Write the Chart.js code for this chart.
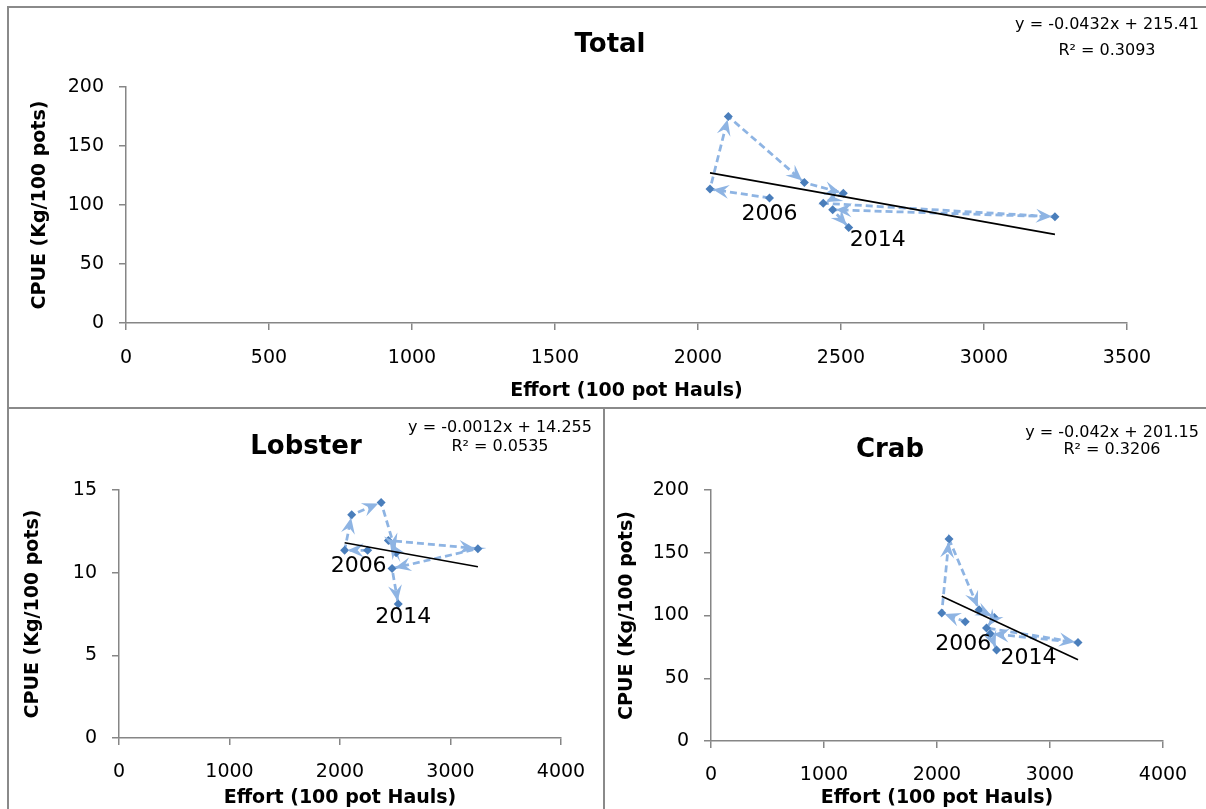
<!DOCTYPE html>
<html>
<head>
<meta charset="utf-8">
<title>CPUE vs Effort</title>
<script src="https://cdn.jsdelivr.net/npm/chart.js@4.4.1/dist/chart.umd.min.js"></script>
<style>
  html, body { margin: 0; padding: 0; background: #fff; overflow: hidden; }
  body { width: 1206px; height: 809px; position: relative; }
  canvas { position: absolute; }
  .box { position: absolute; box-sizing: border-box; border: 2px solid #8a8a8a; }
</style>
</head>
<body>
<div class="box" style="left:7px; top:6px; width:1300px; height:403px;"></div>
<div class="box" style="left:7px; top:407px; width:598px; height:500px;"></div>
<canvas id="totalChart" width="1206" height="407" style="left:0; top:0;"></canvas>
<canvas id="lobsterChart" width="605" height="402" style="left:0; top:407px;"></canvas>
<canvas id="crabChart" width="601" height="402" style="left:605px; top:407px;"></canvas>
<script>
// data (years 2006-2014, in time order)
var years = ['2006', '2007', '2008', '2009', '2010', '2011', '2012', '2013', '2014'];
var effort = [2250, 2042, 2106, 2372, 2508, 2438, 3248, 2471, 2527];
var totalCpue = [106, 113.5, 175, 119, 110, 101.5, 90, 96, 81];
var lobsterCpue = [11.35, 11.35, 13.5, 14.25, 11.2, 11.95, 11.45, 10.25, 8.1];
var crabCpue = [95, 102, 161, 104.5, 98.5, 90, 78.5, 85.5, 72.5];

// linear trend lines: [slope, intercept]
var totalTrend = [-0.0432, 215.41];
var lobsterTrend = [-0.0012, 14.255];
var crabTrend = [-0.042, 201.15];
var totalEq = ['y = -0.0432x + 215.41', 'R\u00b2 = 0.3093'];
var lobsterEq = ['y = -0.0012x + 14.255', 'R\u00b2 = 0.0535'];
var crabEq = ['y = -0.042x + 201.15', 'R\u00b2 = 0.3206'];

// axis ranges: [min, max, step]
var totalXAxis = [0, 3500, 500];
var totalYAxis = [0, 200, 50];
var lobsterXAxis = [0, 4000, 1000];
var lobsterYAxis = [0, 15, 5];
var crabXAxis = [0, 4000, 1000];
var crabYAxis = [0, 200, 50];

var lineBlue = '#8EB4E3';
var markerBlue = '#4A7EBB';
var axisGrey = '#868686';
var family = '"DejaVu Sans", sans-serif';

// arrow heads at the end of every step of the path
function drawArrow(ctx, from, to) {
  var ang = Math.atan2(to.y - from.y, to.x - from.x);
  ctx.save();
  ctx.translate(to.x - Math.cos(ang) * 3, to.y - Math.sin(ang) * 3);
  ctx.rotate(ang);
  ctx.fillStyle = lineBlue;
  ctx.beginPath();
  ctx.moveTo(0, 0);
  ctx.lineTo(-16, -7);
  ctx.lineTo(-10, 0);
  ctx.lineTo(-16, 7);
  ctx.closePath();
  ctx.fill();
  ctx.restore();
}

function plainNumber(v) { return String(v); }

function makeChart(id, cpue, trend, xAxis, yAxis, o) {
  var points = effort.map(function (x, i) { return { x: x, y: cpue[i] }; });
  var xLo = Math.min.apply(null, effort);
  var xHi = Math.max.apply(null, effort);
  var trendData = [
    { x: xLo, y: trend[0] * xLo + trend[1] },
    { x: xHi, y: trend[0] * xHi + trend[1] }
  ];

  var arrows = {
    id: 'arrows',
    afterDatasetDraw: function (chart, args) {
      if (args.index !== 1) return;
      var pts = args.meta.data;
      for (var i = 1; i < pts.length; i++) drawArrow(chart.ctx, pts[i - 1], pts[i]);
    }
  };

  var texts = {
    id: 'texts',
    afterDraw: function (chart) {
      var ctx = chart.ctx;
      var pts = chart.getDatasetMeta(1).data;
      ctx.save();
      ctx.fillStyle = '#000';
      ctx.textAlign = 'center';
      ctx.textBaseline = 'middle';
      ctx.font = 'bold 26px ' + family;
      ctx.fillText(o.title, o.titleX, o.titleY);
      ctx.font = '16px ' + family;
      ctx.fillText(o.eq[0], o.eqX, o.eqY);
      ctx.fillText(o.eq[1], o.eqX, o.eqY + o.eqGap);
      ctx.font = '22px ' + family;
      o.yearLabels.forEach(function (l) {
        ctx.fillText(years[l[0]], pts[l[0]].x + l[1], pts[l[0]].y + l[2]);
      });
      ctx.restore();
    }
  };

  return new Chart(document.getElementById(id), {
    type: 'scatter',
    data: {
      datasets: [{
        label: 'Linear',
        data: trendData,
        showLine: true,
        borderColor: '#000',
        borderWidth: 1.6,
        pointRadius: 0
      }, {
        label: 'CPUE',
        data: points,
        showLine: true,
        borderColor: lineBlue,
        borderWidth: 2.75,
        borderDash: [7, 4],
        pointStyle: 'rectRot',
        pointRadius: 4.5,
        pointBackgroundColor: markerBlue,
        pointBorderColor: markerBlue,
        pointBorderWidth: 0
      }]
    },
    options: {
      responsive: false,
      animation: false,
      devicePixelRatio: 1,
      layout: { padding: o.pad },
      plugins: { legend: { display: false }, tooltip: { enabled: false } },
      scales: {
        x: {
          type: 'linear',
          min: xAxis[0], max: xAxis[1],
          ticks: { stepSize: xAxis[2], callback: plainNumber, color: '#000',
                   font: { family: family, size: 19 }, padding: o.xTickPad },
          grid: { drawOnChartArea: false, tickLength: 7, color: axisGrey, lineWidth: 1.5 },
          border: { color: axisGrey, width: 1.5 },
          title: { display: true, text: 'Effort (100 pot Hauls)', color: '#000',
                   font: { family: family, size: 19, weight: 'bold' }, padding: { top: 0, bottom: o.xTitlePad } },
          afterFit: function (s) { s.height = o.xHeight; }
        },
        y: {
          type: 'linear',
          min: yAxis[0], max: yAxis[1],
          ticks: { stepSize: yAxis[2], callback: plainNumber, color: '#000',
                   font: { family: family, size: 19 }, padding: 15 },
          grid: { drawOnChartArea: false, tickLength: 7, color: axisGrey, lineWidth: 1.5 },
          border: { color: axisGrey, width: 1.5 },
          title: { display: true, text: 'CPUE (Kg/100 pots)', color: '#000',
                   font: { family: family, size: 19, weight: 'bold' }, padding: { top: 2, bottom: 0 } },
          afterFit: function (s) { s.width = o.yWidth; }
        }
      }
    },
    plugins: [arrows, texts]
  });
}

// Total
makeChart('totalChart', totalCpue, totalTrend, totalXAxis, totalYAxis, {
  pad: { left: 27, right: 79, top: 87, bottom: 0 },
  yWidth: 99, xHeight: 84, xTickPad: 17, xTitlePad: 5,
  title: 'Total', titleX: 610, titleY: 45,
  eq: totalEq, eqX: 1107, eqY: 25, eqGap: 26,
  yearLabels: [[0, 0, 16], [8, 29, 13]]
});

// Lobster
makeChart('lobsterChart', lobsterCpue, lobsterTrend, lobsterXAxis, lobsterYAxis, {
  pad: { left: 20, right: 44, top: 83, bottom: 0 },
  yWidth: 99, xHeight: 71, xTickPad: 16, xTitlePad: 0,
  title: 'Lobster', titleX: 306, titleY: 40,
  eq: lobsterEq, eqX: 500, eqY: 21, eqGap: 19,
  yearLabels: [[0, -9, 16], [8, 5, 13]]
});

// Crab
makeChart('crabChart', crabCpue, crabTrend, crabXAxis, crabYAxis, {
  pad: { left: 9, right: 43, top: 83, bottom: 0 },
  yWidth: 97, xHeight: 68, xTickPad: 16, xTitlePad: 0,
  title: 'Crab', titleX: 285, titleY: 43,
  eq: crabEq, eqX: 507, eqY: 26, eqGap: 17,
  yearLabels: [[0, -2, 23], [8, 32, 8]]
});
</script>
</body>
</html>
